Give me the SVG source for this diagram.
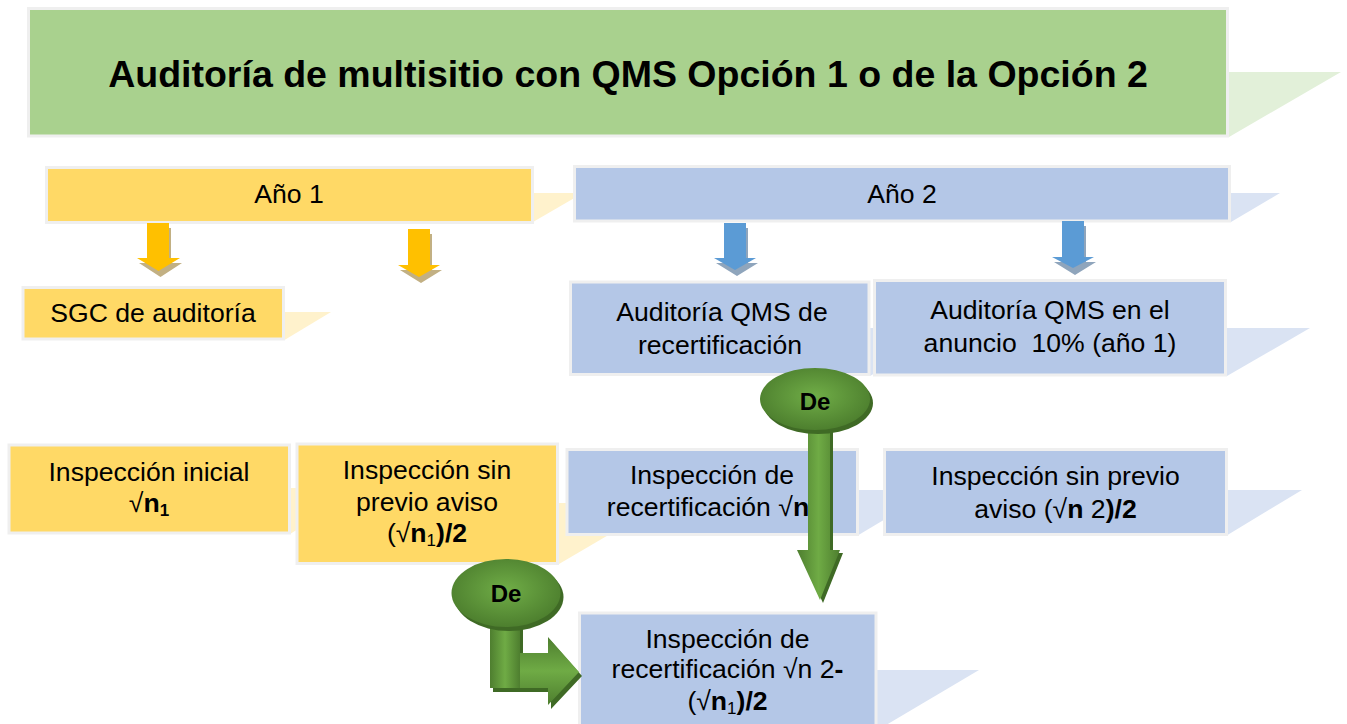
<svg xmlns="http://www.w3.org/2000/svg" width="1347" height="724" viewBox="0 0 1347 724">
<defs>
<style>
.t{font-family:"Liberation Sans",Arial,sans-serif;font-size:26.6px;fill:#000;text-anchor:middle;white-space:pre}
.b{font-weight:bold}
.g{fill:#a9d18e;stroke:#efefef;stroke-width:3}
.y{fill:#ffd966;stroke:#efefef;stroke-width:3}
.bl{fill:#b4c7e7;stroke:#efefef;stroke-width:3}
.gs{fill:#e2f0d9}
.ys{fill:#fff2cc}
.bs{fill:#dae3f3}
.ya{fill:#ffc000}
.yas{fill:#c2b083}
.ba{fill:#5b9bd5}
.bas{fill:#8fa5bc}
.gsh{fill:#3f6a25}
</style>
<radialGradient id="eg" cx="0.5" cy="0.45" r="0.55">
<stop offset="0" stop-color="#70ad47"/>
<stop offset="1" stop-color="#4d7f2e"/>
</radialGradient>
<linearGradient id="vg" x1="0" y1="0" x2="1" y2="0">
<stop offset="0" stop-color="#4e7e2f"/>
<stop offset="0.5" stop-color="#6fab45"/>
<stop offset="1" stop-color="#4e7e2f"/>
</linearGradient>
<linearGradient id="hg" x1="0" y1="0" x2="0" y2="1">
<stop offset="0" stop-color="#4e7e2f"/>
<stop offset="0.5" stop-color="#6fab45"/>
<stop offset="1" stop-color="#4e7e2f"/>
</linearGradient>
</defs>
<rect width="1347" height="724" fill="#ffffff"/>

<g id="shadows">
<polygon class="gs" points="1229,72 1341,72 1229,137"/>
<polygon class="ys" points="533,193 583,193 533,222"/>
<polygon class="bs" points="1231,193 1280,193 1231,222"/>
<polygon class="ys" points="284.5,312 331,312 284.5,340"/>
<polygon class="bs" points="870,328 950,328 870,376"/>
<polygon class="bs" points="1227,328 1310,328 1227,376"/>
<polygon class="ys" points="290,488 364,488 290,534"/>
<polygon class="ys" points="559,503 663,503 559,564"/>
<polygon class="bs" points="858.5,490 934,490 858.5,535"/>
<polygon class="bs" points="1227.5,490 1302,490 1227.5,535"/>
<polygon class="bs" points="876,670 979,670 876,731"/>
</g>

<g id="title">
<rect class="g" x="28.5" y="8.5" width="1199" height="127.5"/>
<text class="t b" x="628" y="87" style="font-size:37.5px">Auditoría de multisitio con QMS Opción 1 o de la Opción 2</text>
</g>

<g id="ano1">
<rect class="y" x="46.5" y="167.5" width="486" height="55"/>
<text class="t" x="289" y="203">Año 1</text>
</g>

<g id="ano2">
<rect class="bl" x="574.5" y="166.5" width="655" height="54.5"/>
<text class="t" x="902" y="203">Año 2</text>
</g>

<g id="sgc">
<rect class="y" x="23" y="287.5" width="260.5" height="51.5"/>
<text class="t" x="153" y="322">SGC de auditoría</text>
</g>

<g id="qms-recert">
<rect class="bl" x="570.5" y="282" width="298.5" height="92.5"/>
<text class="t" x="722" y="321">Auditoría QMS de</text>
<text class="t" x="720" y="354">recertificación</text>
</g>

<g id="qms-anuncio">
<rect class="bl" x="874.5" y="280.5" width="351" height="94.5"/>
<text class="t" x="1050" y="319">Auditoría QMS en el</text>
<text class="t" x="1050" y="352">anuncio  10% (año 1)</text>
</g>

<g id="insp-inicial">
<rect class="y" x="9" y="445" width="280.5" height="88"/>
<text class="t" x="149" y="481">Inspección inicial</text>
<text class="t" x="149" y="512">√<tspan class="b">n</tspan><tspan class="b" style="font-size:17px" dy="4">1</tspan></text>
</g>

<g id="insp-sin-aviso-1">
<rect class="y" x="297" y="444" width="260.5" height="119.5"/>
<text class="t" x="427" y="479">Inspección sin</text>
<text class="t" x="427" y="511">previo aviso</text>
<text class="t" x="427" y="542">(√<tspan class="b">n</tspan><tspan style="font-size:17px" dy="4">1</tspan><tspan class="b" dy="-4">)/2</tspan></text>
</g>

<g id="insp-recert">
<rect class="bl" x="567" y="449.5" width="290.5" height="85"/>
<text class="t" x="712" y="484">Inspección de</text>
<text class="t" x="708" y="516">recertificación √<tspan class="b">n</tspan></text>
</g>

<g id="insp-sin-aviso-2">
<rect class="bl" x="884.5" y="449.5" width="342" height="85"/>
<text class="t" x="1055.5" y="485">Inspección sin previo</text>
<text class="t" x="1055.5" y="518">aviso (√<tspan class="b">n</tspan> 2<tspan class="b">)/2</tspan></text>
</g>

<g id="insp-recert-2">
<rect class="bl" x="579.5" y="613" width="296.5" height="120"/>
<text class="t" x="727.5" y="648">Inspección de</text>
<text class="t" x="727.5" y="678">recertificación √n 2<tspan class="b">-</tspan></text>
<text class="t" x="727.5" y="710">(√<tspan class="b">n</tspan><tspan style="font-size:17px" dy="4">1</tspan><tspan class="b" dy="-4">)/2</tspan></text>
</g>

<g id="connectors">
<polygon class="yas" points="149,228 171,228 171,263 182,263 160.5,277 139,263 149,263"/>
<polygon class="ya" points="147,223 169,223 169,258 180,258 158.5,271 137,258 147,258"/>
<polygon class="yas" points="410,234 432,234 432,270 442,270 421,283 400,270 410,270"/>
<polygon class="ya" points="408,229 430,229 430,265 440,265 419,277 398,265 408,265"/>
<polygon class="bas" points="726,228 748,228 748,263 758,263 737,276 716,263 726,263"/>
<polygon class="ba" points="724,223 746,223 746,258 756,258 735,270 714,258 724,258"/>
<polygon class="bas" points="1064,226 1086,226 1086,262 1096,262 1075,275 1054,262 1064,262"/>
<polygon class="ba" points="1062,221 1084,221 1084,257 1094,257 1073,268 1052,257 1062,257"/>

<g id="de-1">
<polygon class="gsh" points="811,420 833,420 833,553 843,553 823,603 800,553 811,553"/>
<polygon fill="url(#vg)" points="808,420 830,420 830,550 840,550 820,600 797,550 808,550"/>
<ellipse class="gsh" cx="818" cy="403" rx="55" ry="31"/>
<ellipse fill="url(#eg)" cx="815" cy="399" rx="55" ry="31"/>
<text class="t b" x="815" y="410" style="font-size:24px">De</text>
</g>

<g id="de-2">
<polygon class="gsh" points="493,619 523,619 523,657 551,657 551,641 582,676 551,709 551,692 493,692"/>
<polygon fill="url(#vg)" points="490,615 520,615 520,688 490,688"/>
<polygon fill="url(#hg)" points="520,653 548,653 548,637 579,672 548,705 548,688 520,688"/>
<ellipse class="gsh" cx="509" cy="597" rx="54.5" ry="34"/>
<ellipse fill="url(#eg)" cx="506" cy="593" rx="54.5" ry="34"/>
<text class="t b" x="506" y="602" style="font-size:24px">De</text>
</g>
</g>
</svg>
